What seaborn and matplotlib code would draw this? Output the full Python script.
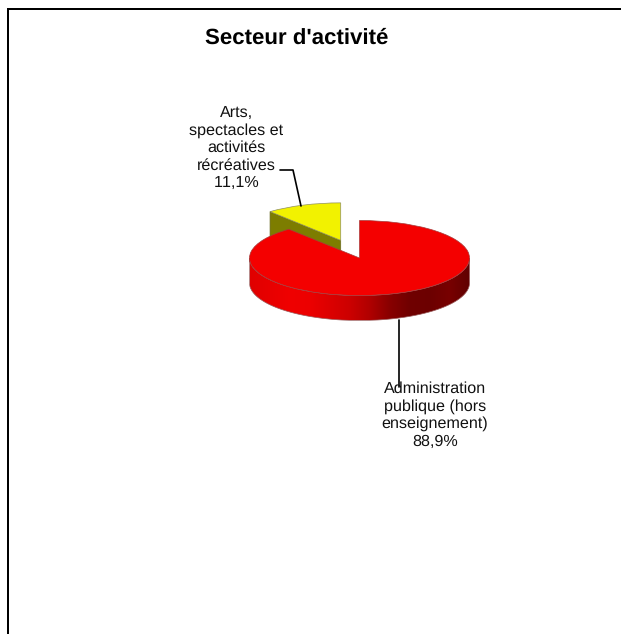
import numpy as np
import seaborn as sns
import matplotlib.pyplot as plt
from matplotlib.colors import LinearSegmentedColormap
from matplotlib.patches import Polygon

sns.set_theme(style='white')
plt.rcParams['font.family'] = ['Liberation Sans', 'DejaVu Sans']
plt.rcParams['text.hinting'] = 'no_hinting'
plt.rcParams['text.kerning_factor'] = 6

# Data
categories = ['Administration\npublique (hors\nenseignement)', 'Arts,\nspectacles et\nactivités\nrécréatives']
shares = [88.9, 11.1]
value_labels = ['88,9%', '11,1%']
title = "Secteur d'activité"
top_colors = ['#f40000', '#f2f200']
side_color = '#7d7d00'
side_stops = ['#e00000', '#e80000', '#f00000', '#ec0000', '#dc0000', '#cc0000',
              '#b00000', '#880000', '#700000', '#6c0000', '#780000', '#600000']

W, H = 621, 634
fig = plt.figure(figsize=(W / 100, H / 100), dpi=100)

# Overlay in pixel units for frame, text and leaders
px = fig.add_axes([0, 0, 1, 1], zorder=2)
px.set_xlim(0, W)
px.set_ylim(H, 0)
px.axis('off')
px.patch.set_alpha(0)

# Pie axes: one unit is the radius of the flattened disc
cx, cy, a, b = 359.5, 258, 110, 37.5
depth = 25 / b
ax = fig.add_axes([0, 0, 1, 1], zorder=1)
ax.patch.set_alpha(0)

wedges, _ = ax.pie(shares, colors=top_colors, startangle=90, counterclock=False,
                   explode=[0, 0.5], radius=1,
                   wedgeprops={'linewidth': 0.5, 'zorder': 5})
wedges[0].set_edgecolor('#a83a3a')
wedges[1].set_edgecolor('#8f8f60')
ax.set_aspect('auto')

# Side wall of the red slice (only the front half shows)
t = np.linspace(np.pi, 2 * np.pi, 200)
x_arc, y_arc = np.cos(t), np.sin(t)
wall = np.column_stack([np.r_[x_arc, x_arc[::-1]], np.r_[y_arc - depth, y_arc[::-1]]])
cmap = LinearSegmentedColormap.from_list('wall', side_stops)
img = ax.imshow(np.linspace(0, 1, 256)[None, :], cmap=cmap, aspect='auto', zorder=4,
                extent=(-1, 1, -1 - depth, 0))
patch = Polygon(wall, closed=True, transform=ax.transData, facecolor='none',
                edgecolor='#9a5a5a', linewidth=0.5, zorder=4.5)
ax.add_patch(patch)
img.set_clip_path(patch)
ax.set_xlim(-cx / a, (W - cx) / a)
ax.set_ylim((cy - H) / b, cy / b)

# Cut face of the yellow slice
yellow = wedges[1]
ang = np.deg2rad(90 + 360 * shares[1] / sum(shares))
mid = np.deg2rad(90 + 180 * shares[1] / sum(shares))
ox, oy = 0.5 * np.cos(mid), 0.5 * np.sin(mid)
ex, ey = ox + np.cos(ang), oy + np.sin(ang)
ax.fill([ox, ex, ex, ox], [oy, ey, ey - depth, oy - depth], color=side_color, zorder=3,
        ec='#6a6a20', lw=0.5)
yellow.set_zorder(3.5)

# Frame
px.plot([8, 8, W], [H, 9, 9], color='black', lw=1.44, solid_joinstyle='miter')

# Title
px.text(296.5, 38, title, ha='center', va='center', fontsize=16, fontweight='bold', color='black')

# Labels and leaders
px.text(236.5, 148, categories[1] + '\n' + value_labels[1], ha='center', va='center',
        fontsize=11.6, color='#111111', linespacing=1.235)
px.plot([280, 293, 301], [170, 170, 206], color='black', lw=1.2)
px.text(435, 415, categories[0] + '\n' + value_labels[0], ha='center', va='center',
        fontsize=11.6, color='#111111', linespacing=1.235)
px.plot([399, 399], [320, 387], color='black', lw=1.2)

plt.savefig('out.png', dpi=100, facecolor='white')
